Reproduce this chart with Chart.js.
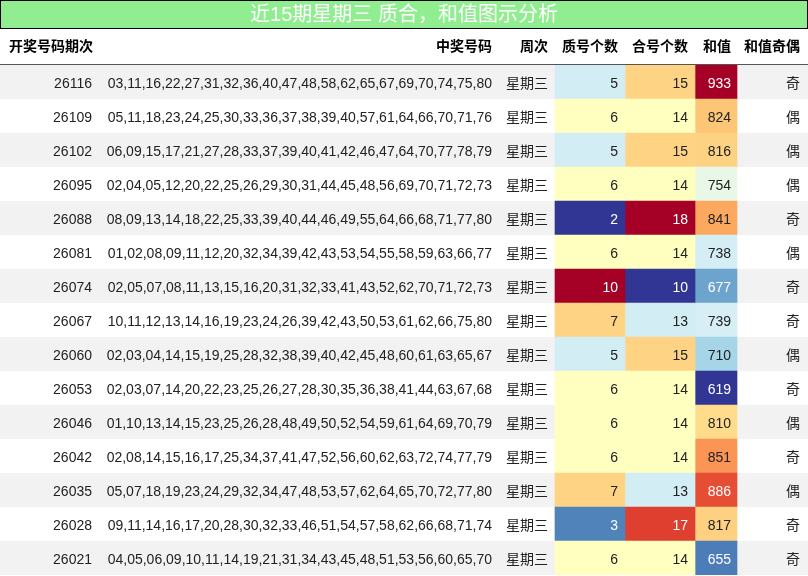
<!DOCTYPE html>
<html>
<head>
<meta charset="utf-8">
<script src="https://cdn.jsdelivr.net/npm/chart.js@4"></script>
<style>
  body { margin: 0; background: #fff; }
  #wrap { width: 808px; height: 576px; position: relative; }
</style>
</head>
<body>
<div id="wrap"><canvas id="chart"></canvas></div>
<script>
// --- DATA ---
const periods = ['26116','26109','26102','26095','26088','26081','26074','26067','26060','26053','26046','26042','26035','26028','26021'];
const numbers = [
  '03,11,16,22,27,31,32,36,40,47,48,58,62,65,67,69,70,74,75,80',
  '05,11,18,23,24,25,30,33,36,37,38,39,40,57,61,64,66,70,71,76',
  '06,09,15,17,21,27,28,33,37,39,40,41,42,46,47,64,70,77,78,79',
  '02,04,05,12,20,22,25,26,29,30,31,44,45,48,56,69,70,71,72,73',
  '08,09,13,14,18,22,25,33,39,40,44,46,49,55,64,66,68,71,77,80',
  '01,02,08,09,11,12,20,32,34,39,42,43,53,54,55,58,59,63,66,77',
  '02,05,07,08,11,13,15,16,20,31,32,33,41,43,52,62,70,71,72,73',
  '10,11,12,13,14,16,19,23,24,26,39,42,43,50,53,61,62,66,75,80',
  '02,03,04,14,15,19,25,28,32,38,39,40,42,45,48,60,61,63,65,67',
  '02,03,07,14,20,22,23,25,26,27,28,30,35,36,38,41,44,63,67,68',
  '01,10,13,14,15,23,25,26,28,48,49,50,52,54,59,61,64,69,70,79',
  '02,08,14,15,16,17,25,34,37,41,47,52,56,60,62,63,72,74,77,79',
  '05,07,18,19,23,24,29,32,34,47,48,53,57,62,64,65,70,72,77,80',
  '09,11,14,16,17,20,28,30,32,33,46,51,54,57,58,62,66,68,71,74',
  '04,05,06,09,10,11,14,19,21,31,34,43,45,48,51,53,56,60,65,70'
];
const weekday = '星期三';
const primeCount = [5,6,5,6,2,6,10,7,5,6,6,6,7,3,6];
const compCount = [15,14,15,14,18,14,10,13,15,14,14,14,13,17,14];
const sums = [933,824,816,754,841,738,677,739,710,619,810,851,886,817,655];
const parity = ['奇','偶','偶','偶','奇','偶','奇','奇','偶','奇','偶','奇','偶','奇','奇'];
const headers = ['开奖号码期次','中奖号码','周次','质号个数','合号个数','和值','和值奇偶'];
const title = '近15期星期三 质合，和值图示分析';

// --- LAYOUT ---
const W = 808, H = 576, TOP = 65;
const colPrime = [555, 625], colComp = [625, 695], colSum = [695, 737];
const FONT = '"Liberation Sans","Noto Sans CJK SC",sans-serif';

const RDYLBU_R = ['#313695','#4575b4','#74add1','#abd9e9','#e0f3f8','#ffffbf','#fee090','#fdae61','#f46d43','#d73027','#a50026'];
function hex(c) { return [1,3,5].map(i => parseInt(c.substr(i,2),16)); }
function cmap(v, lo, hi) {
  const t = Math.max(0, Math.min(1, (v - lo) / (hi - lo))) * (RDYLBU_R.length - 1);
  const i = Math.min(Math.floor(t), RDYLBU_R.length - 2), f = t - i;
  const a = hex(RDYLBU_R[i]), b = hex(RDYLBU_R[i+1]);
  return 'rgb(' + a.map((x,k) => Math.round(x + (b[k]-x)*f)).join(',') + ')';
}
function textCol(rgb) {
  const [r,g,b] = rgb.match(/\d+/g).map(n => { const c = n/255; return c <= 0.04 ? c/12.92 : Math.pow((c+0.055)/1.055, 2.4); });
  return (0.2126*r + 0.7152*g + 0.0722*b) < 0.4 ? '#fff' : '#222';
}
const range = a => [Math.min(...a), Math.max(...a)];
const pc = primeCount.map(v => cmap(v, ...range(primeCount)));
const cc = compCount.map(v => cmap(v, ...range(compCount)));
const sc = sums.map(v => cmap(v, ...range(sums)));

const tablePlugin = {
  id: 'table',
  beforeDraw(chart) {
    const ctx = chart.ctx, y = chart.scales.y;
    ctx.save();
    ctx.fillStyle = '#fff'; ctx.fillRect(0, 0, W, H);
    periods.forEach((p, i) => {
      if (i % 2 === 0) {
        const yc = y.getPixelForValue(i), h = y.getPixelForValue(1) - y.getPixelForValue(0);
        ctx.fillStyle = '#f2f2f2'; ctx.fillRect(0, yc - h/2, W, h);
      }
    });
    // title
    ctx.fillStyle = '#90ee90'; ctx.fillRect(0, 0, W, 28);
    ctx.strokeStyle = '#000'; ctx.lineWidth = 1; ctx.strokeRect(0.5, 0.5, W - 1, 28);
    ctx.fillStyle = '#fff'; ctx.font = '20px ' + FONT; ctx.textAlign = 'center'; ctx.textBaseline = 'middle';
    ctx.fillText(title, W/2, 15);
    // header
    ctx.fillStyle = '#000'; ctx.font = 'bold 14px ' + FONT;
    const hy = 47;
    ctx.textAlign = 'left'; ctx.fillText(headers[0], 9, hy);
    ctx.textAlign = 'right';
    [[1,492],[2,548],[3,618],[4,688],[5,731],[6,800]].forEach(([k,x]) => ctx.fillText(headers[k], x, hy));
    ctx.strokeStyle = '#555'; ctx.beginPath(); ctx.moveTo(0, 64.5); ctx.lineTo(W, 64.5); ctx.stroke();
    ctx.restore();
  },
  afterDatasetsDraw(chart) {
    const ctx = chart.ctx, y = chart.scales.y;
    ctx.save();
    ctx.font = '14px ' + FONT; ctx.textBaseline = 'middle';
    periods.forEach((p, i) => {
      const yc = y.getPixelForValue(i) + 2;
      ctx.fillStyle = '#222'; ctx.textAlign = 'right';
      ctx.fillText(p, 92, yc);
      ctx.fillText(numbers[i], 492, yc);
      ctx.textAlign = 'center'; ctx.fillText(weekday, 527, yc);
      ctx.textAlign = 'right';
      ctx.fillStyle = textCol(pc[i]); ctx.fillText(primeCount[i], 618, yc);
      ctx.fillStyle = textCol(cc[i]); ctx.fillText(compCount[i], 688, yc);
      ctx.fillStyle = textCol(sc[i]); ctx.fillText(sums[i], 731, yc);
      ctx.fillStyle = '#222'; ctx.fillText(parity[i], 800, yc);
    });
    ctx.restore();
  }
};

const cellSet = (col, colors) => ({
  data: periods.map(() => col), backgroundColor: colors,
  barPercentage: 1, categoryPercentage: 1, borderWidth: 0
});

new Chart(document.getElementById('chart'), {
  type: 'bar',
  data: {
    labels: periods,
    datasets: [cellSet(colPrime, pc), cellSet(colComp, cc), cellSet(colSum, sc)]
  },
  options: {
    indexAxis: 'y',
    responsive: true,
    maintainAspectRatio: false,
    animation: false,
    layout: { padding: { top: TOP, left: 0, right: 0, bottom: 1 } },
    scales: {
      x: { type: 'linear', min: 0, max: W, display: false },
      y: { stacked: true, display: false }
    },
    plugins: { legend: { display: false }, tooltip: { enabled: false } }
  },
  plugins: [tablePlugin]
});
</script>
</body>
</html>
